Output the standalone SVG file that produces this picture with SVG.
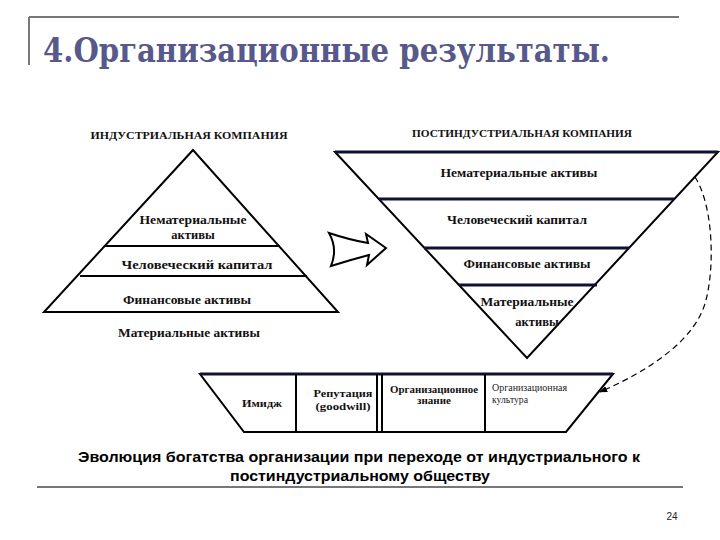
<svg xmlns="http://www.w3.org/2000/svg" width="720" height="540" viewBox="0 0 720 540">
<defs>
<style>
.frame{stroke:#777;stroke-width:2;fill:none}
.edge{stroke:#000;stroke-width:2;fill:none;stroke-linejoin:miter}
.band{stroke:#111133;stroke-width:3;fill:none}
.title{font-family:"DejaVu Serif",serif;font-weight:bold;font-size:33px;fill:#58588a}
.lbl{font-family:"Liberation Serif","DejaVu Serif",serif;font-weight:bold;font-size:12.5px;fill:#111;text-anchor:middle}
.hdr{font-family:"Liberation Serif","DejaVu Serif",serif;font-weight:bold;font-size:10px;fill:#111;text-anchor:middle}
.sm{font-family:"Liberation Serif","DejaVu Serif",serif;font-weight:bold;font-size:11px;fill:#111;text-anchor:middle}
.thin{font-family:"Liberation Serif","DejaVu Serif",serif;font-size:10px;fill:#222}
.cap{font-family:"Liberation Sans",Arial,sans-serif;font-weight:bold;font-size:14px;fill:#000;text-anchor:middle}
.pg{font-family:"Liberation Sans",Arial,sans-serif;font-size:10px;fill:#222;text-anchor:middle}
</style>
<marker id="ah" viewBox="0 0 10 10" refX="9" refY="5" markerWidth="8" markerHeight="8" orient="auto" markerUnits="userSpaceOnUse">
<path d="M0,1 L10,5 L0,9 Z" fill="#000"/>
</marker>
</defs>
<rect width="720" height="540" fill="#fff"/>

<g id="slide-frame">
<line class="frame" x1="29" y1="17" x2="679" y2="17"/>
<line class="frame" x1="29" y1="17" x2="29" y2="65"/>
<line class="frame" x1="37" y1="487" x2="683" y2="487"/>
<text class="title" x="43" y="62" textLength="567" lengthAdjust="spacingAndGlyphs">4.Организационные результаты.</text>
<text class="pg" x="672" y="520">24</text>
</g>

<g id="industrial-pyramid">
<text class="hdr" x="189" y="139" textLength="197" lengthAdjust="spacingAndGlyphs">ИНДУСТРИАЛЬНАЯ  КОМПАНИЯ</text>
<polygon class="edge" points="193,150 44,312 338,312"/>
<line class="edge" x1="105" y1="246" x2="280" y2="246"/>
<line class="edge" x1="80" y1="276" x2="307" y2="276"/>
<text class="lbl" x="193" y="224" textLength="107" lengthAdjust="spacingAndGlyphs">Нематериальные</text>
<text class="lbl" x="193" y="239">активы</text>
<text class="lbl" x="197" y="269" textLength="151" lengthAdjust="spacingAndGlyphs">Человеческий капитал</text>
<text class="lbl" x="187" y="304" textLength="128" lengthAdjust="spacingAndGlyphs">Финансовые активы</text>
<text class="lbl" x="189" y="337" textLength="142" lengthAdjust="spacingAndGlyphs">Материальные активы</text>
</g>

<g id="transition-arrow">
<path d="M329,233 Q350,240 368,243 L366,234 L386,248 L367,265 L369,255 Q350,260 331,266 Q338,249 329,233 Z" fill="#fff" stroke="#000" stroke-width="2" stroke-linejoin="miter"/>
</g>

<g id="postindustrial-pyramid">
<text class="hdr" x="522" y="137" textLength="220" lengthAdjust="spacingAndGlyphs">ПОСТИНДУСТРИАЛЬНАЯ  КОМПАНИЯ</text>
<polygon class="edge" points="335,152 718,152 527,358"/>
<line class="band" x1="335" y1="152" x2="718" y2="152"/>
<line class="band" x1="379" y1="199" x2="674" y2="199"/>
<line class="band" x1="424" y1="248" x2="629" y2="248"/>
<line class="band" x1="459" y1="285" x2="597" y2="285"/>
<text class="lbl" x="519" y="177" textLength="157" lengthAdjust="spacingAndGlyphs">Нематериальные активы</text>
<text class="lbl" x="517" y="224" textLength="140" lengthAdjust="spacingAndGlyphs">Человеческий капитал</text>
<text class="lbl" x="527" y="268" textLength="127" lengthAdjust="spacingAndGlyphs">Финансовые активы</text>
<text class="lbl" x="527" y="306" textLength="93" lengthAdjust="spacingAndGlyphs">Материальные</text>
<text class="lbl" x="537" y="326">активы</text>
</g>

<g id="intangibles-bar">
<polygon class="edge" points="200,374 613,374 566,432 244,432"/>
<line x1="200" y1="374" x2="613" y2="374" stroke="#111133" stroke-width="3"/>
<line class="edge" x1="296" y1="374" x2="296" y2="432"/>
<line class="edge" x1="377" y1="374" x2="377" y2="432"/>
<line class="edge" x1="382" y1="374" x2="382" y2="432"/>
<line class="edge" x1="485" y1="374" x2="485" y2="432"/>
<text class="sm" x="262" y="407" textLength="40" lengthAdjust="spacingAndGlyphs">Имидж</text>
<text class="sm" x="343" y="397" textLength="59" lengthAdjust="spacingAndGlyphs">Репутация</text>
<text class="sm" x="343" y="410" textLength="55" lengthAdjust="spacingAndGlyphs">(goodwill)</text>
<text class="sm" x="434" y="393" textLength="88" lengthAdjust="spacingAndGlyphs" font-size="10">Организационное</text>
<text class="sm" x="434" y="404" font-size="10">знание</text>
<text class="thin" x="492" y="391" textLength="75" lengthAdjust="spacingAndGlyphs">Организационная</text>
<text class="thin" x="492" y="403" textLength="36" lengthAdjust="spacingAndGlyphs">культура</text>
</g>

<g id="connectors">
<path d="M695,177 C713,205 715,265 706,300 C696,340 650,370 600,392" fill="none" stroke="#000" stroke-width="1.2" stroke-dasharray="6,4" marker-end="url(#ah)"/>
</g>

<g id="caption">
<text class="cap" x="359" y="462" textLength="562" lengthAdjust="spacingAndGlyphs">Эволюция богатства организации при переходе от индустриального к</text>
<text class="cap" x="360" y="481" textLength="260" lengthAdjust="spacingAndGlyphs">постиндустриальному обществу</text>
</g>
</svg>
